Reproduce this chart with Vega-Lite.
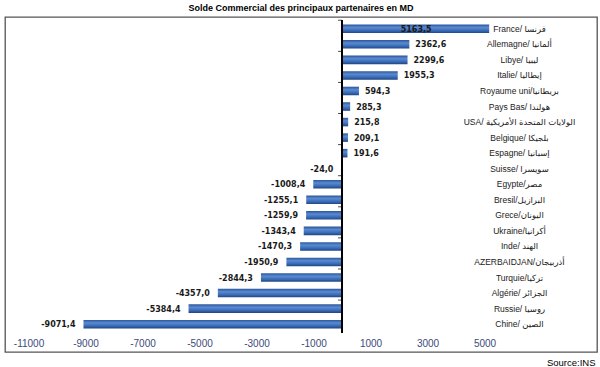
{
  "$schema": "https://vega.github.io/schema/vega-lite/v6.json",
  "autosize": {"type": "none"},
  "width": 592,
  "height": 335,
  "padding": {"left": 5, "top": 17, "right": 3, "bottom": 15},
  "background": "white",
  "title": {
    "text": "Solde Commercial des principaux partenaires en MD",
    "font": "Liberation Sans",
    "fontSize": 9,
    "fontWeight": "bold",
    "color": "#000000",
    "anchor": "middle",
    "offset": 4
  },
  "config": {
    "view": {"stroke": "#555555", "strokeWidth": 1.3},
    "locale": {
      "number": {"decimal": ",", "thousands": "", "grouping": [3], "currency": ["", ""], "minus": "-"}
    }
  },
  "data": {
    "values": [
      {"pays": "France/ فرنسا", "solde": 5163.5},
      {"pays": "Allemagne/ ألمانيا", "solde": 2362.6},
      {"pays": "Libye/ ليبيا", "solde": 2299.6},
      {"pays": "Italie/ إيطاليا", "solde": 1955.3},
      {"pays": "Royaume uni/بريطانيا", "solde": 594.3},
      {"pays": "Pays Bas/ هولندا", "solde": 285.3},
      {"pays": "USA/ الولايات المتحدة الأمريكية", "solde": 215.8},
      {"pays": "Belgique/ بلجيكا", "solde": 209.1},
      {"pays": "Espagne/ إسبانيا", "solde": 191.6},
      {"pays": "Suisse/ سويسرا", "solde": -24.0},
      {"pays": "Egypte/مصر", "solde": -1008.4},
      {"pays": "Bresil/البرازيل", "solde": -1255.1},
      {"pays": "Grece/اليونان", "solde": -1259.9},
      {"pays": "Ukraine/أكرانيا", "solde": -1343.4},
      {"pays": "Inde/ الهند", "solde": -1470.3},
      {"pays": "AZERBAIDJAN/أذربيجان", "solde": -1950.9},
      {"pays": "Turquie/تركيا", "solde": -2844.3},
      {"pays": "Algérie/ الجزائر", "solde": -4357.0},
      {"pays": "Russie/ روسيا", "solde": -5384.4},
      {"pays": "Chine/ الصين", "solde": -9071.4}
    ]
  },
  "encoding": {
    "y": {
      "field": "pays",
      "type": "nominal",
      "sort": null,
      "scale": {"paddingInner": 0.45, "paddingOuter": 1.03, "align": 0.242},
      "axis": {
        "orient": "right",
        "offset": -78,
        "title": null,
        "domain": false,
        "ticks": false,
        "labelPadding": 0,
        "labelAlign": "center",
        "labelFont": "Liberation Sans, DejaVu Sans",
        "labelFontSize": 8.5,
        "labelColor": "#222222",
        "labelLimit": 200
      }
    },
    "x": {
      "field": "solde",
      "type": "quantitative",
      "scale": {"domain": [-11825, 8947], "nice": false, "zero": false},
      "axis": {
        "orient": "bottom",
        "offset": -16,
        "values": [-11000, -9000, -7000, -5000, -3000, -1000, 1000, 3000, 5000],
        "format": "d",
        "grid": false,
        "domain": false,
        "ticks": false,
        "labelPadding": 2,
        "labelFont": "Liberation Sans",
        "labelFontSize": 10,
        "labelColor": "#3b4a7a",
        "title": "Source:INS",
        "titleFont": "Liberation Sans",
        "titleFontSize": 9.5,
        "titleFontWeight": "normal",
        "titleColor": "#000000",
        "titleAnchor": "end",
        "titleAlign": "right",
        "titleBaseline": "alphabetic",
        "titleX": 590,
        "titleY": 29
      }
    }
  },
  "layer": [
    {
      "mark": {
        "type": "bar",
        "color": {
          "gradient": "linear",
          "x1": 0, "y1": 0, "x2": 0, "y2": 1,
          "stops": [
            {"offset": 0, "color": "#2a569c"},
            {"offset": 0.35, "color": "#5a8ad0"},
            {"offset": 0.7, "color": "#3b6bb5"},
            {"offset": 1, "color": "#1d4685"}
          ]
        }
      }
    },
    {
      "mark": {"type": "rule", "color": "#000000", "strokeWidth": 1.2},
      "encoding": {
        "x": {"datum": 0},
        "y": {"datum": "France/ فرنسا", "bandPosition": -0.5},
        "y2": {"datum": "Chine/ الصين", "bandPosition": 1.5}
      }
    },
    {
      "transform": [{"filter": {"field": "pays", "oneOf": ["France/ فرنسا", "Libye/ ليبيا", "Royaume uni/بريطانيا", "USA/ الولايات المتحدة الأمريكية", "Espagne/ إسبانيا", "Egypte/مصر", "Grece/اليونان", "Inde/ الهند", "Turquie/تركيا", "Russie/ روسيا"]}}],
      "mark": {"type": "tick", "orient": "horizontal", "size": 4, "thickness": 1, "color": "#000000", "xOffset": -2},
      "encoding": {
        "x": {"datum": 0},
        "y": {"field": "pays", "type": "nominal", "sort": null, "bandPosition": -0.5}
      }
    },
    {
      "transform": [{"filter": "datum.solde > 0 && datum.solde < 5000"}],
      "mark": {"type": "text", "align": "left", "baseline": "middle", "dx": 6, "dy": 1, "font": "DejaVu Sans", "fontSize": 8, "fontWeight": "bold", "color": "#1a1a1a"},
      "encoding": {"text": {"field": "solde", "type": "quantitative", "format": ".1f"}}
    },
    {
      "transform": [{"filter": "datum.solde >= 5000"}],
      "mark": {"type": "text", "align": "center", "baseline": "middle", "dx": -73, "dy": 1, "font": "DejaVu Sans", "fontSize": 8, "fontWeight": "bold", "color": "#1a1a1a"},
      "encoding": {"text": {"field": "solde", "type": "quantitative", "format": ".1f"}}
    },
    {
      "transform": [{"filter": "datum.solde < 0"}],
      "mark": {"type": "text", "align": "right", "baseline": "middle", "dx": -8, "dy": 1, "font": "DejaVu Sans", "fontSize": 8, "fontWeight": "bold", "color": "#1a1a1a"},
      "encoding": {"text": {"field": "solde", "type": "quantitative", "format": ".1f"}}
    }
  ]
}
